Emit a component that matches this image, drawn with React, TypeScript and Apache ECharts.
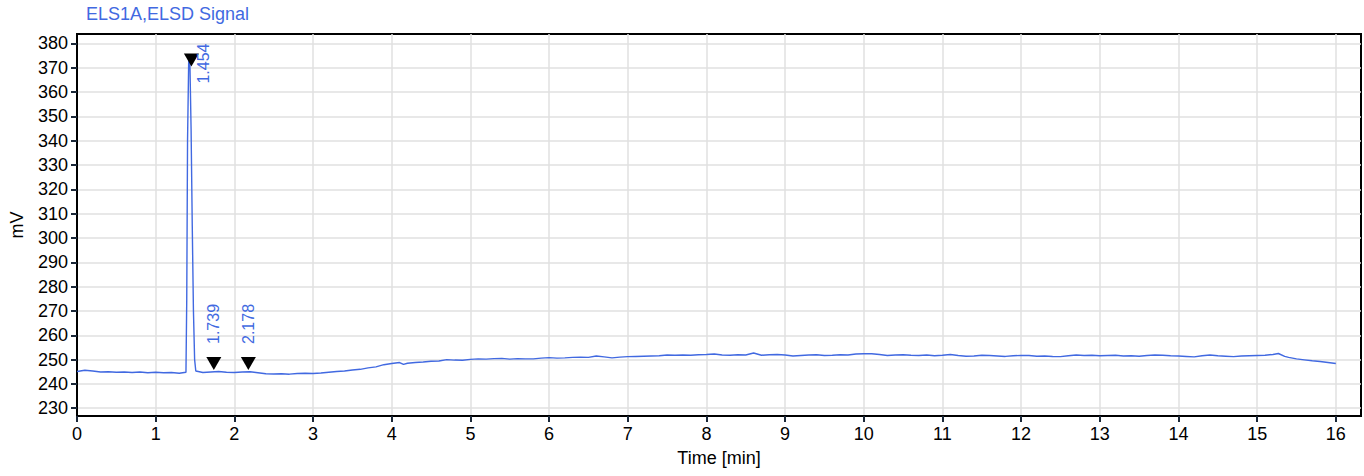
import React, { useEffect, useRef } from "react";
import * as echarts from "echarts";

const TITLE = "ELS1A,ELSD Signal";
const X_NAME = "Time [min]";
const Y_NAME = "mV";

const xTicks = [0, 1, 2, 3, 4, 5, 6, 7, 8, 9, 10, 11, 12, 13, 14, 15, 16];
const yTicks = [230, 240, 250, 260, 270, 280, 290, 300, 310, 320, 330, 340, 350, 360, 370, 380];

const times = [
  0.0, 0.1, 0.2, 0.3, 0.4, 0.5, 0.6, 0.7, 0.8, 0.9, 1.0, 1.1, 1.2, 1.3, 1.385,
  1.395, 1.405, 1.42, 1.435, 1.45, 1.465, 1.48, 1.495, 1.51, 1.6, 1.7, 1.8, 1.9,
  2.0, 2.1, 2.2, 2.3, 2.4, 2.5, 2.6, 2.7, 2.8, 2.9, 3.0, 3.1, 3.2, 3.3, 3.4, 3.5,
  3.6, 3.7, 3.8, 3.9, 4.0, 4.1, 4.15, 4.2, 4.3, 4.4, 4.5, 4.6, 4.7, 4.8, 4.9,
  5.0, 5.1, 5.2, 5.3, 5.4, 5.5, 5.6, 5.7, 5.8, 5.9, 6.0, 6.1, 6.2, 6.3, 6.4,
  6.5, 6.6, 6.7, 6.8, 6.9, 7.0, 7.1, 7.2, 7.3, 7.4, 7.5, 7.6, 7.7, 7.8, 7.9,
  8.0, 8.1, 8.2, 8.3, 8.4, 8.5, 8.6, 8.7, 8.8, 8.9, 9.0, 9.1, 9.2, 9.3, 9.4,
  9.5, 9.6, 9.7, 9.8, 9.9, 10.0, 10.1, 10.2, 10.3, 10.4, 10.5, 10.6, 10.7, 10.8,
  10.9, 11.0, 11.1, 11.2, 11.3, 11.4, 11.5, 11.6, 11.7, 11.8, 11.9, 12.0, 12.1,
  12.2, 12.3, 12.4, 12.5, 12.6, 12.7, 12.8, 12.9, 13.0, 13.1, 13.2, 13.3, 13.4,
  13.5, 13.6, 13.7, 13.8, 13.9, 14.0, 14.1, 14.2, 14.3, 14.4, 14.5, 14.6, 14.7,
  14.8, 14.9, 15.0, 15.1, 15.2, 15.27, 15.35, 15.4, 15.5, 15.6, 15.7, 15.8,
  15.9, 16.0,
];

const signal = [
  245.1, 245.6, 245.3, 244.9, 245.0, 244.8, 244.9, 244.7, 244.9, 244.6, 244.8,
  244.6, 244.7, 244.4, 244.8, 275.0, 340.0, 373.5, 372.0, 345.0, 305.0, 270.0,
  250.0, 245.3, 244.7, 244.9, 245.1, 244.8, 244.7, 244.9, 245.0, 244.6, 244.2,
  244.1, 244.2, 244.0, 244.3, 244.4, 244.3, 244.5, 244.8, 245.1, 245.3, 245.7,
  246.0, 246.6, 247.0, 247.9, 248.4, 248.8, 248.0, 248.5, 248.8, 249.0, 249.3,
  249.4, 250.0, 249.8, 249.7, 250.1, 250.3, 250.2, 250.4, 250.5, 250.2, 250.4,
  250.3, 250.3, 250.6, 250.8, 250.6, 250.7, 250.9, 251.0, 250.9, 251.5, 251.1,
  250.7, 251.0, 251.2, 251.3, 251.4, 251.5, 251.6, 251.9, 251.8, 251.9, 251.8,
  252.0, 252.1, 252.3, 251.9, 251.8, 252.0, 251.9, 252.7, 251.8, 252.0, 252.1,
  251.9, 251.5, 251.7, 251.9, 252.0, 251.7, 251.8, 252.0, 251.9, 252.3, 252.4,
  252.4, 252.1, 251.7, 251.9, 252.0, 251.8, 251.7, 251.9, 251.6, 251.8, 252.1,
  251.7, 251.4, 251.5, 251.8, 251.7, 251.5, 251.3, 251.6, 251.7, 251.7, 251.4,
  251.5, 251.3, 251.2, 251.6, 251.9, 251.7, 251.8, 251.6, 251.7, 251.8, 251.5,
  251.6, 251.4, 251.7, 251.9, 251.8, 251.6, 251.5, 251.3, 251.1, 251.6, 251.9,
  251.6, 251.4, 251.2, 251.5, 251.6, 251.7, 251.8, 252.1, 252.5, 251.3, 250.9,
  250.3, 249.9, 249.5, 249.2, 248.8, 248.4,
];

const peakTimes = [1.454, 1.739, 2.178];
const markerHeights = [373.2, 248.4, 248.4];

const BLUE = "#4169e1";
const FONT = "'Liberation Sans', Arial, sans-serif";

export default function App() {
  const ref = useRef<HTMLDivElement>(null);

  useEffect(() => {
    document.body.style.margin = "0";
    if (!ref.current) return;
    const chart = echarts.init(ref.current, undefined, { renderer: "svg" });

    const lineData = times.map((t, i) => [t, signal[i]]);
    const markerData = peakTimes.map((t, i) => ({
      value: [t, markerHeights[i]],
      label:
        i === 0
          ? { position: [20, 10], align: "center", verticalAlign: "middle" }
          : { position: [7.5, -13], align: "left", verticalAlign: "middle" },
    }));

    chart.setOption({
      animation: false,
      backgroundColor: "#ffffff",
      textStyle: { fontFamily: FONT },
      title: {
        text: TITLE,
        left: 86,
        top: 5,
        padding: 0,
        textStyle: { color: BLUE, fontSize: 18, fontWeight: "normal", fontFamily: FONT },
      },
      grid: {
        left: 77,
        right: 3,
        top: 34,
        bottom: 60,
        show: true,
        borderColor: "#000",
        borderWidth: 2,
        backgroundColor: "transparent",
      },
      xAxis: {
        type: "value",
        min: 0,
        max: 16.32,
        name: X_NAME,
        nameLocation: "middle",
        nameGap: 33,
        nameTextStyle: { color: "#000", fontSize: 18, fontFamily: FONT },
        axisLine: { show: true, lineStyle: { color: "#000", width: 2 } },
        axisTick: {
          show: true,
          length: 6,
          customValues: xTicks,
          lineStyle: { color: "#1b2838", width: 2 },
        },
        axisLabel: {
          customValues: xTicks,
          margin: 9,
          color: "#000",
          fontSize: 18,
          fontFamily: FONT,
        },
        splitLine: { show: true, lineStyle: { color: "#e0e0e0", width: 1.5 } },
      },
      yAxis: {
        type: "value",
        min: 226.8,
        max: 383.9,
        name: Y_NAME,
        nameLocation: "middle",
        nameGap: 51,
        nameTextStyle: { color: "#000", fontSize: 18, fontFamily: FONT },
        axisLine: { show: true, lineStyle: { color: "#000", width: 2 } },
        axisTick: {
          show: true,
          length: 6,
          customValues: yTicks,
          lineStyle: { color: "#1b2838", width: 2 },
        },
        axisLabel: {
          customValues: yTicks,
          margin: 9,
          color: "#000",
          fontSize: 18,
          fontFamily: FONT,
        },
        splitLine: { show: true, lineStyle: { color: "#e0e0e0", width: 1.5 } },
      },
      series: [
        {
          type: "line",
          data: lineData,
          showSymbol: false,
          symbol: "none",
          lineStyle: { color: BLUE, width: 1.4 },
          z: 3,
        },
        {
          type: "scatter",
          data: markerData,
          symbol: "path://M0,0 L2,0 L1,2 Z",
          symbolSize: [15, 13],
          itemStyle: { color: "#000", opacity: 1 },
          z: 4,
          label: {
            show: true,
            rotate: 90,
            color: BLUE,
            fontSize: 16,
            fontFamily: FONT,
            formatter: (p: any) => p.value[0].toFixed(3),
          },
        },
      ],
    });

    return () => chart.dispose();
  }, []);

  return <div ref={ref} style={{ width: 1364, height: 476 }} />;
}
